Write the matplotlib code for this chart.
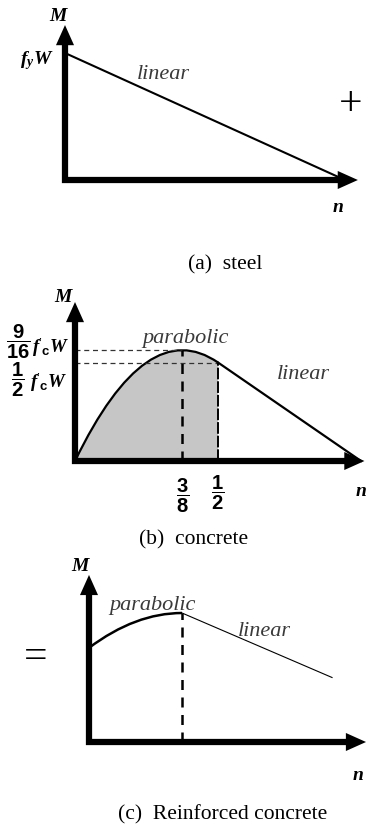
import numpy as np
import matplotlib.pyplot as plt
from matplotlib.path import Path
from matplotlib.patches import PathPatch

plt.rcParams['mathtext.fontset'] = 'custom'
plt.rcParams['mathtext.rm'] = 'Liberation Serif'
plt.rcParams['mathtext.it'] = 'Liberation Serif:italic'
plt.rcParams['mathtext.bf'] = 'Liberation Sans:bold'
plt.rcParams['mathtext.bfit'] = 'Liberation Serif:italic:bold'

W, H = 366, 825

# (a) steel: straight line from f_y W at n = 0 down to zero
steel_n = [0.0, 1.0]
steel_M = [1.0, 0.0]

# (b) concrete: parabola through the origin, peak and break point, then linear
conc_origin = (0.0, 0.0)
conc_peak = (3 / 8, 9 / 16)
conc_break = (1 / 2, 1 / 2)
conc_end = (1.0, 0.0)

# (c) reinforced concrete (schematic)
rc_start = (0.0, 0.73)
rc_peak = (0.375, 1.0)
rc_end = (0.98, 0.50)

fig = plt.figure(figsize=(W / 100, H / 100), dpi=100)


def panel(ox, oy, sx, sy):
    # full-figure axes with the (n, M) origin at pixel (ox, oy)
    ax = fig.add_axes([0, 0, 1, 1])
    ax.set_xlim(-ox / sx, (W - ox) / sx)
    ax.set_ylim(-(H - oy) / sy, oy / sy)
    ax.axis('off')
    ax.patch.set_alpha(0)
    return ax


def axis_arrows(ax, sx, sy, n_tip, M_tip):
    head = 20  # px
    ax.plot([0, 0, n_tip - head / sx + 0.01], [M_tip - head / sy + 0.01, 0, 0],
            color='k', lw=4.5, solid_joinstyle='miter', solid_capstyle='projecting', zorder=5)
    kw = dict(arrowstyle='-|>,head_length=1.45,head_width=0.65', lw=0, color='k',
              mutation_scale=10, shrinkA=0, shrinkB=0, zorder=6)
    ax.annotate('', xy=(0, M_tip), xytext=(0, M_tip - 0.3), arrowprops=kw)
    ax.annotate('', xy=(n_tip, 0), xytext=(n_tip - 0.3, 0), arrowprops=kw)


def frac(a, b):
    return r'$\dfrac{\mathbf{%s}}{\mathbf{%s}}$' % (a, b)


lab = dict(fontfamily='Liberation Serif', fontstyle='italic', color='#3a3a3a', fontsize=16)
axlab = dict(fontfamily='Liberation Serif', fontstyle='italic', fontweight='bold', fontsize=14)
cap = dict(fontfamily='Liberation Serif', fontsize=15.5, ha='center', va='center')
fcw = r"$\mathbfit{f}'_{\mathbf{c}}\mathbfit{W}$"

# ---- (a) steel
sx, sy = 280, 127
ax = panel(65, 180, sx, sy)
axis_arrows(ax, sx, sy, 1.046, 1.22)
ax.plot(steel_n, steel_M, color='k', lw=1.5)
ax.text(-0.025, 1.29, 'M', ha='center', va='center', **axlab)
ax.text(-0.1, 0.94, r'$\mathbfit{f_yW}$', ha='center', va='center', fontsize=14)
ax.text(0.35, 0.83, 'linear', ha='center', va='center', **lab)
ax.text(0.975, -0.22, 'n', ha='center', va='center', **axlab)
ax.text(1.02, 0.59, '+', ha='center', va='center', fontsize=30,
        fontfamily='Liberation Serif', fontweight='light')
fig.text(225 / W, 1 - 265 / H, '(a)  steel', **cap)

# ---- (b) concrete
sx, sy = 286, 197
ax = panel(75, 461, sx, sy)
# parabola as a quadratic Bezier; control point where the end tangents meet
ctrl = (1 / 4, 3 / 4)
para = Path([conc_origin, ctrl, conc_break], [Path.MOVETO, Path.CURVE3, Path.CURVE3])
fill = Path([conc_origin, ctrl, conc_break, (conc_break[0], 0), conc_origin],
            [Path.MOVETO, Path.CURVE3, Path.CURVE3, Path.LINETO, Path.CLOSEPOLY])
ax.add_patch(PathPatch(fill, facecolor='#c6c6c6', edgecolor='none'))
ax.add_patch(PathPatch(para, facecolor='none', edgecolor='k', lw=1.6))
ax.plot([conc_break[0], conc_end[0]], [conc_break[1], conc_end[1]], color='k', lw=1.6)
ax.plot([0, conc_peak[0]], [conc_peak[1]] * 2, color='#333333', lw=0.9, dashes=(4, 3))
ax.plot([0, conc_break[0]], [conc_break[1]] * 2, color='#333333', lw=0.9, dashes=(4, 3))
ax.plot([conc_peak[0]] * 2, [0, conc_peak[1]], color='k', lw=1.8, dashes=(4, 3))
ax.plot([conc_break[0]] * 2, [0, conc_break[1]], color='k', lw=1.4, dashes=(6, 1))
ax.text(-0.042, 0.832, 'M', ha='center', va='center', **axlab)
ax.text(-0.2, 0.607, frac(9, 16), ha='center', va='center', fontsize=14.5)
ax.text(-0.02, 0.575, fcw, ha='right', va='center', fontsize=13.5)
ax.text(-0.2, 0.41, frac(1, 2), ha='center', va='center', fontsize=14.5)
ax.text(-0.025, 0.40, fcw, ha='right', va='center', fontsize=13.5)
ax.text(0.385, 0.624, 'parabolic', ha='center', va='center', **lab)
ax.text(0.797, 0.437, 'linear', ha='center', va='center', **lab)
ax.text(conc_peak[0], -0.175, frac(3, 8), ha='center', va='center', fontsize=14.5)
ax.text(conc_break[0], -0.16, frac(1, 2), ha='center', va='center', fontsize=14.5)
ax.text(1.0, -0.157, 'n', ha='center', va='center', **axlab)
axis_arrows(ax, sx, sy, 1.012, 0.807)
fig.text(194 / W, 1 - 540 / H, '(b)  concrete', **cap)

# ---- (c) reinforced concrete
sx, sy = 248, 129
ax = panel(89, 742, sx, sy)
rc_ctrl = (rc_peak[0] / 2, rc_peak[1])  # vertex of the parabola at the peak
rc_para = Path([rc_start, rc_ctrl, rc_peak], [Path.MOVETO, Path.CURVE3, Path.CURVE3])
ax.add_patch(PathPatch(rc_para, facecolor='none', edgecolor='k', lw=1.8))
ax.plot([rc_peak[0], rc_end[0]], [rc_peak[1], rc_end[1]], color='k', lw=0.8)
ax.plot([rc_peak[0]] * 2, [0, rc_peak[1]], color='k', lw=1.8, dashes=(4, 3))
ax.text(-0.036, 1.357, 'M', ha='center', va='center', **axlab)
ax.text(-0.214, 0.651, '=', ha='center', va='center', fontsize=30,
        fontfamily='Liberation Serif', fontweight='light')
ax.text(0.258, 1.062, 'parabolic', ha='center', va='center', **lab)
ax.text(0.706, 0.86, 'linear', ha='center', va='center', **lab)
ax.text(1.085, -0.256, 'n', ha='center', va='center', **axlab)
axis_arrows(ax, sx, sy, 1.117, 1.295)
fig.text(223 / W, 1 - 815 / H, '(c)  Reinforced concrete', **cap)

fig.savefig('out.png', dpi=100)
